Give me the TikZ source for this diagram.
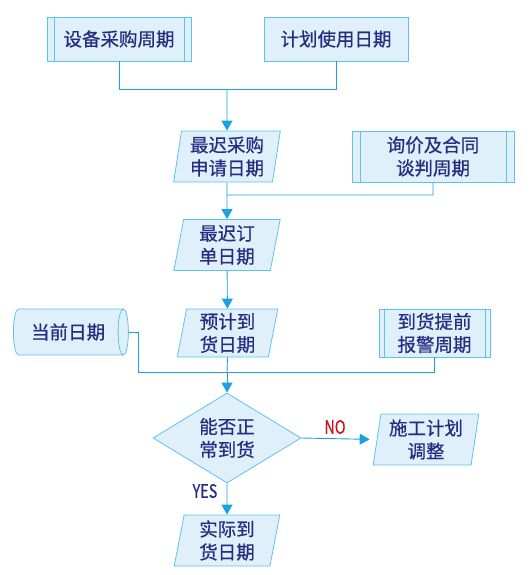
\documentclass[tikz,border=0pt]{standalone}
\usepackage{fontspec}
\setmainfont{Noto Sans CJK SC}[FakeBold=0.6]
\usepackage{xcolor}
\usepackage{tikz}
\usetikzlibrary{arrows.meta, shapes.geometric, calc}

\definecolor{boxfill}{HTML}{DFF0FB}
\definecolor{boxline}{HTML}{5BC4EE}
\definecolor{flowline}{HTML}{1BA1E2}
\definecolor{textblue}{HTML}{262C80}
\definecolor{nored}{HTML}{C0161C}

\begin{document}
\begin{tikzpicture}[x=1pt, y=-1pt,
    base/.style={draw=boxline, fill=boxfill, line width=0.8pt, text=textblue, align=center, inner sep=0pt, font=\fontsize{18.5}{23}\selectfont},
    proc/.style={base, rectangle, minimum width=144pt, minimum height=44pt},
    subproc/.style={base, rectangle, path picture={
        \draw[boxline, line width=0.8pt] ([xshift=#1]path picture bounding box.north west) -- ([xshift=#1]path picture bounding box.south west);
        \draw[boxline, line width=0.8pt] ([xshift=-#1]path picture bounding box.north east) -- ([xshift=-#1]path picture bounding box.south east);}},
    subproc/.default=7pt,
    data/.style={base, trapezium, trapezium left angle=81, trapezium right angle=99, trapezium stretches=true, minimum width=107pt, minimum height=51pt},
    decision/.style={base, diamond, aspect=1.64, minimum width=148pt, minimum height=90pt},
    store/.style={base, cylinder, aspect=0.6, minimum width=46pt, minimum height=115pt},
    edge/.style={flowline, line width=0.9pt},
    arr/.style={edge, -{Triangle[length=10pt, width=11pt]}},
    answer/.style={inner sep=0pt, font=\fontsize{18.5}{21}\selectfont}
]
\useasboundingbox (0,0) rectangle (532,575);

\node[subproc, minimum width=144pt, minimum height=44pt] (buy) at (119,39) {设备采购周期};
\node[proc] (use) at (336,39) {计划使用日期};
\node[data] (apply) at (227,156.5) {最迟采购\\申请日期};
\node[subproc=8pt, minimum width=162pt, minimum height=51pt] (talk) at (433,156.5) {询价及合同\\谈判周期};
\node[data] (order) at (227,245) {最迟订\\单日期};
\node[data, minimum width=101pt, minimum height=48pt] (est) at (227.5,333) {预计到\\货日期};
\node[store, anchor=west] (cur) at (13,332) {当前日期};
\node[subproc=5pt, minimum width=111pt, minimum height=48pt] (alarm) at (434.5,333) {到货提前\\报警周期};
\node[decision] (dec) at (227,438) {能否正\\常到货};
\node[data, minimum width=106pt] (adj) at (426,439.5) {施工计划\\调整};
\node[data, minimum width=106pt] (real) at (227,540.5) {实际到\\货日期};

\node[answer, text=nored] (no) at (335,427) {\scalebox{0.78}[1]{NO}};
\node[answer, text=textblue] (yes) at (205,491) {\scalebox{0.78}[1]{YES}};

\coordinate (j1) at (227,89);
\coordinate (j2) at (227,195);
\coordinate (j3) at (227,372);

\draw[edge] (buy.south) |- (j1);
\draw[edge] (use.south) |- (j1);
\draw[arr] (j1) -- (apply.north);
\draw[edge] (apply.south) -- (j2) -| (talk.south);
\draw[arr] (j2) -- (order.north);
\draw[arr] (order) -- (est);
\draw[edge] (cur.east) -- ++(10,0) |- (j3);
\draw[edge] (alarm.south) |- (j3);
\draw[edge] (est.south) -- (j3);
\draw[arr] (j3) -- (dec.north);
\draw[arr, shorten >=7pt] (dec.east) -- (adj.west);
\draw[arr] (dec.south) -- (real.north);
\end{tikzpicture}
\end{document}
